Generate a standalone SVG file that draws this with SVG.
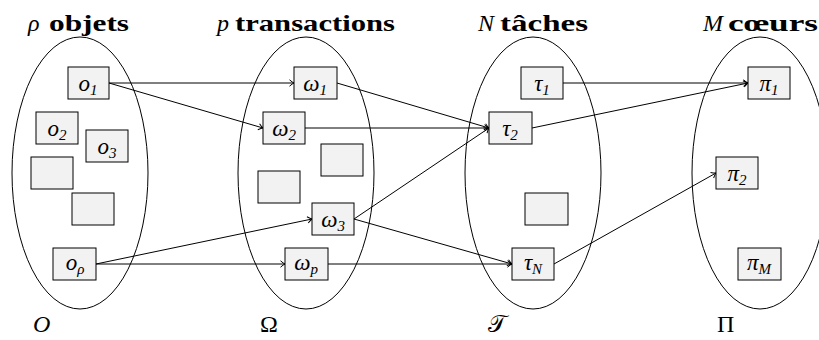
<svg xmlns="http://www.w3.org/2000/svg" width="819" height="340" viewBox="0 0 819 340">
<defs>
<marker id="arr" markerUnits="userSpaceOnUse" markerWidth="12" markerHeight="12" refX="0" refY="0" viewBox="-6 -6 12 12" orient="auto" overflow="visible">
<path d="M-4.5,-3.2 Q-1.5,-0.6 0,0 Q-1.5,0.6 -4.5,3.2" fill="none" stroke="#000" stroke-width="1"/>
</marker>
</defs>
<style>
.set{fill:none;stroke:#000;stroke-width:1}
.box{fill:#f2f2f2;stroke:#000;stroke-width:1}
.m{font-family:"Liberation Serif",serif;font-style:italic;font-size:23px;fill:#000}
.sub{font-size:15px}
.t{font-family:"Liberation Serif",serif;font-size:24px;fill:#000}
.b{font-weight:bold;font-style:normal}
.i{font-style:italic}
.lab{font-family:"Liberation Serif",serif;font-size:24px;fill:#000}
.e{fill:none;stroke:#000;stroke-width:1;marker-end:url(#arr)}
</style>
<rect width="819" height="340" fill="#fff"/>
<g id="titles">
<text class="t" x="28" y="31"><tspan class="i">ρ</tspan><tspan class="b" x="49" textLength="80" lengthAdjust="spacingAndGlyphs">objets</tspan></text>
<text class="t" x="217" y="31"><tspan class="i">p</tspan><tspan class="b" x="235" textLength="160" lengthAdjust="spacingAndGlyphs">transactions</tspan></text>
<text class="t" x="478" y="31"><tspan class="i">N</tspan><tspan class="b" x="500" textLength="88" lengthAdjust="spacingAndGlyphs">tâches</tspan></text>
<text class="t" x="703" y="31"><tspan class="i">M</tspan><tspan class="b" x="728" textLength="90" lengthAdjust="spacingAndGlyphs">cœurs</tspan></text>
</g>
<g id="set-O"><ellipse class="set" cx="80" cy="173" rx="68" ry="136"/><text class="lab i" x="33" y="332">O</text></g>
<g id="set-Omega"><ellipse class="set" cx="306" cy="173" rx="68" ry="136"/><text class="lab" x="260" y="332">Ω</text></g>
<g id="set-T"><ellipse class="set" cx="533" cy="173" rx="68" ry="136"/><text class="lab" x="488" y="332">𝒯</text></g>
<g id="set-Pi"><ellipse class="set" cx="760" cy="173" rx="68" ry="136"/><text class="lab" x="717" y="332">Π</text></g>

<g id="connectors">
<line class="e" x1="109" y1="83" x2="294" y2="83"/>
<line class="e" x1="109" y1="83" x2="263" y2="128"/>
<line class="e" x1="96" y1="264" x2="312" y2="219"/>
<line class="e" x1="96" y1="264" x2="285" y2="264"/>
<line class="e" x1="337" y1="83" x2="489" y2="128"/>
<line class="e" x1="305" y1="128" x2="489" y2="128"/>
<line class="e" x1="354" y1="219" x2="489" y2="128"/>
<line class="e" x1="354" y1="219" x2="512" y2="264"/>
<line class="e" x1="328" y1="264" x2="512" y2="264"/>
<line class="e" x1="563" y1="83" x2="748" y2="83"/>
<line class="e" x1="532" y1="128" x2="748" y2="83"/>
<line class="e" x1="554" y1="264" x2="716" y2="173"/>
</g>

<g id="o1"><rect class="box" x="68" y="67" width="41" height="32"/><text class="m" x="88" y="91" text-anchor="middle">o<tspan class="sub" dy="4">1</tspan></text></g>
<g id="o2"><rect class="box" x="36" y="112" width="42" height="32"/><text class="m" x="57" y="136" text-anchor="middle">o<tspan class="sub" dy="4">2</tspan></text></g>
<g id="o3"><rect class="box" x="86" y="130" width="42" height="32"/><text class="m" x="107" y="154" text-anchor="middle">o<tspan class="sub" dy="4">3</tspan></text></g>
<g id="o-a"><rect class="box" x="31" y="157" width="42" height="32"/></g>
<g id="o-b"><rect class="box" x="72" y="193" width="42" height="32"/></g>
<g id="orho"><rect class="box" x="53" y="248" width="43" height="32"/><text class="m" x="75" y="270" text-anchor="middle">o<tspan class="sub" dy="4">ρ</tspan></text></g>

<g id="w1"><rect class="box" x="294" y="67" width="43" height="32"/><text class="m" x="315" y="91" text-anchor="middle">ω<tspan class="sub" dy="4">1</tspan></text></g>
<g id="w2"><rect class="box" x="263" y="112" width="42" height="32"/><text class="m" x="284" y="136" text-anchor="middle">ω<tspan class="sub" dy="4">2</tspan></text></g>
<g id="w-a"><rect class="box" x="321" y="144" width="42" height="32"/></g>
<g id="w-b"><rect class="box" x="258" y="171" width="42" height="32"/></g>
<g id="w3"><rect class="box" x="312" y="203" width="42" height="32"/><text class="m" x="333" y="227" text-anchor="middle">ω<tspan class="sub" dy="4">3</tspan></text></g>
<g id="wp"><rect class="box" x="285" y="248" width="43" height="32"/><text class="m" x="306" y="270" text-anchor="middle">ω<tspan class="sub" dy="4">p</tspan></text></g>

<g id="t1"><rect class="box" x="521" y="67" width="42" height="32"/><text class="m" x="542" y="91" text-anchor="middle">τ<tspan class="sub" dy="4">1</tspan></text></g>
<g id="t2"><rect class="box" x="489" y="112" width="43" height="32"/><text class="m" x="510" y="136" text-anchor="middle">τ<tspan class="sub" dy="4">2</tspan></text></g>
<g id="t-a"><rect class="box" x="525" y="193" width="43" height="32"/></g>
<g id="tN"><rect class="box" x="512" y="248" width="42" height="32"/><text class="m" x="533" y="270" text-anchor="middle">τ<tspan class="sub" dy="4">N</tspan></text></g>

<g id="p1"><rect class="box" x="748" y="67" width="42" height="32"/><text class="m" x="769" y="91" text-anchor="middle">π<tspan class="sub" dy="4">1</tspan></text></g>
<g id="p2"><rect class="box" x="716" y="157" width="42" height="32"/><text class="m" x="737" y="181" text-anchor="middle">π<tspan class="sub" dy="4">2</tspan></text></g>
<g id="pM"><rect class="box" x="738" y="248" width="43" height="32"/><text class="m" x="759" y="270" text-anchor="middle">π<tspan class="sub" dy="4">M</tspan></text></g>
</svg>
